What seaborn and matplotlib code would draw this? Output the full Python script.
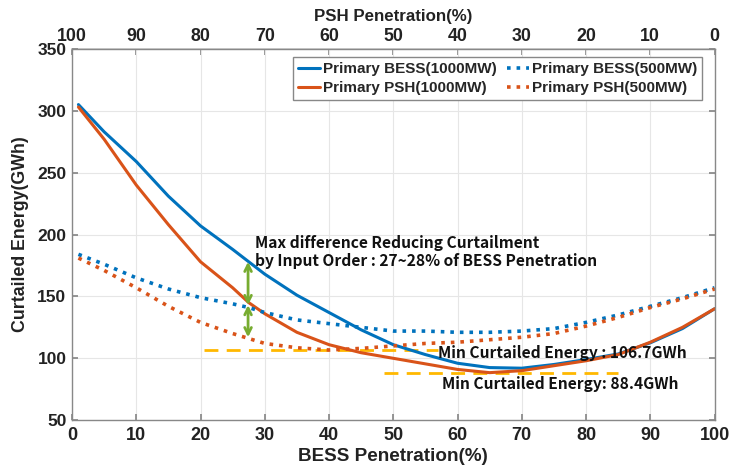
import matplotlib
matplotlib.use("Agg")
import matplotlib.pyplot as plt
import seaborn as sns
import pandas as pd

# BESS penetration (%) sample points
bess_pen = [1, 5, 10, 15, 20, 25, 27.5, 30, 35, 40, 45, 50, 55, 60, 65, 70, 75, 80, 85, 90, 95, 100]

# curtailed energy (GWh)
bess_1000 = [305, 283, 259, 231, 207, 188, 178, 168, 151, 137, 123, 111, 103, 96, 92.5, 92, 95, 99, 103.5, 112.5, 124, 140]
psh_1000 = [303, 277, 240, 208, 178, 157, 145, 136, 121, 111, 104.5, 100, 95.5, 91, 88.4, 90, 94, 98, 103, 113, 125, 140]
bess_500 = [184, 176, 165, 156, 149, 144, 141, 137, 131, 128, 125, 122, 122, 121, 121, 122, 124, 129, 135, 142, 149, 157]
psh_500 = [181, 171, 157, 142, 129, 120, 116, 112, 108.5, 106.7, 108, 110, 112, 113, 115, 117, 120, 126, 133, 141, 148, 156]

series_names = ["Primary BESS(1000MW)", "Primary PSH(1000MW)", "Primary BESS(500MW)", "Primary PSH(500MW)"]
series_vals = [bess_1000, psh_1000, bess_500, psh_500]
series_colors = ["#0072BD", "#D95319", "#0072BD", "#D95319"]
series_styles = ["-", "-", ":", ":"]

min_1000 = 88.4
min_500 = 106.7
arrow_x = 27.4
arrow_pts = [178, 143, 117]

sns.set_theme(style="whitegrid")
plt.rcParams["font.family"] = ["Liberation Sans", "DejaVu Sans"]

fig = plt.figure(figsize=(7.31, 4.70), dpi=100)
ax = fig.add_axes([0.0985, 0.106, 0.879, 0.79])

for name, vals, col, ls in zip(series_names, series_vals, series_colors, series_styles):
    df = pd.DataFrame({"x": bess_pen, "y": vals})
    sns.lineplot(data=df, x="x", y="y", ax=ax, color=col, linestyle=ls,
                 linewidth=2.6 if ls == ":" else 2.2, label=name)

# min lines
ax.plot([20.5, 57], [min_500, min_500], color="#FFB800", linestyle=(0, (5, 3)), linewidth=2, zorder=1)
ax.plot([48.5, 85], [min_1000, min_1000], color="#FFB800", linestyle=(0, (5, 3)), linewidth=2, zorder=1)

# double arrows
for y0, y1 in zip(arrow_pts[:-1], arrow_pts[1:]):
    ax.annotate("", xy=(arrow_x, y0), xytext=(arrow_x, y1),
                arrowprops=dict(arrowstyle="<->", color="#77AC30", lw=2, shrinkA=0, shrinkB=0))

ann_font = dict(family=["Noto Sans CJK KR", "DejaVu Sans"], fontweight="bold", fontsize=11.2, color="#111111")
ax.text(28.5, 186, "Max difference Reducing Curtailment\nby Input Order : 27~28% of BESS Penetration",
        va="center", ha="left", linespacing=1.1, **ann_font)
ax.text(57, 104, "Min Curtailed Energy : 106.7GWh", va="center", ha="left", **ann_font)
ax.text(57.6, 79, "Min Curtailed Energy: 88.4GWh", va="center", ha="left", **ann_font)

ax.set_xlim(0, 100)
ax.set_ylim(50, 350)
ax.set_xticks(range(0, 101, 10))
ax.set_yticks(range(50, 351, 50))
ax.grid(True, color="#E6E6E6", linewidth=0.8)
for s in ax.spines.values():
    s.set_color("#888888")
    s.set_linewidth(1.0)
ax.tick_params(direction="in", length=4, color="#888888", top=False, right=True, bottom=True, left=True)
ax.tick_params(axis="x", labelsize=13, pad=5)
ax.tick_params(axis="y", labelsize=12.5, pad=4)
for lab in ax.get_xticklabels() + ax.get_yticklabels():
    lab.set_fontweight("bold")
    lab.set_color("#222222")

ax.set_xlabel("BESS Penetration(%)", fontsize=13.6, fontweight="bold", color="#222222", labelpad=3)
ax.set_ylabel("Curtailed Energy(GWh)", fontsize=12.8, fontweight="bold", color="#222222", labelpad=6)

top = ax.secondary_xaxis("top", functions=(lambda v: 100 - v, lambda v: 100 - v))
top.set_xticks(range(0, 101, 10))
top.tick_params(direction="in", length=4, color="#888888", labelsize=12.8, pad=3)
for lab in top.get_xticklabels():
    lab.set_fontweight("bold")
    lab.set_color("#222222")
top.set_xlabel("PSH Penetration(%)", fontsize=12.2, fontweight="bold", color="#222222", labelpad=5)

ax.legend(ncol=2, loc="upper right", bbox_to_anchor=(0.981, 0.978), borderaxespad=0,
          frameon=True, fancybox=False, edgecolor="#888888", framealpha=1,
          handlelength=1.4, handletextpad=0.2, columnspacing=0.7, borderpad=0.35,
          labelspacing=0.3, prop=dict(weight="bold", size=11))

fig.savefig("out.png", dpi=100, facecolor="white")
